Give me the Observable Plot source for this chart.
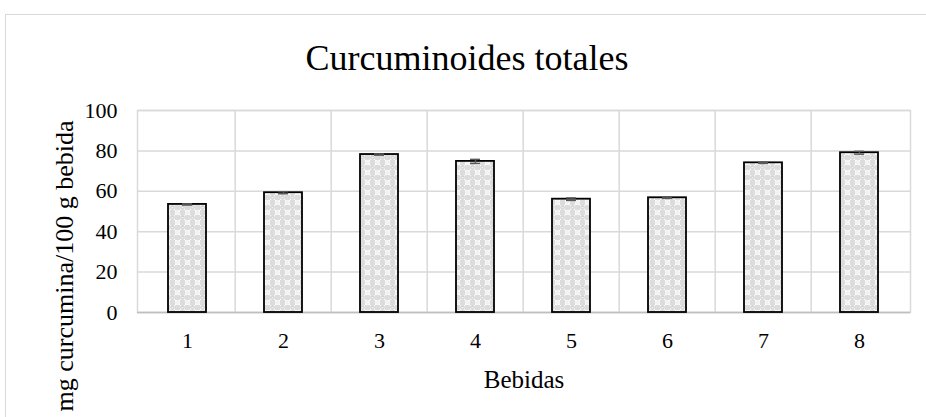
<!DOCTYPE html>
<html>
<head>
<meta charset="utf-8">
<script src="https://cdn.jsdelivr.net/npm/d3@7"></script>
<script src="https://cdn.jsdelivr.net/npm/@observablehq/plot@0.6"></script>
<style>
  html, body { margin: 0; padding: 0; background: #fff; overflow: hidden; }
  #wrap { position: relative; width: 926px; height: 417px; overflow: hidden; font-family: 'Liberation Serif', serif; }
  #frame { position: absolute; left: 5px; top: 14px; width: 1000px; height: 1000px; border: 1.5px solid #d9d9d9; pointer-events: none; z-index: 5; }
  #title { position: relative; height: 95px; }
  #title span { position: absolute; left: 467px; top: 40px; transform: translateX(-50%); white-space: nowrap;
    font-family: 'Liberation Serif', serif; font-size: 36px; line-height: 36px; color: #000; }
  #ylab { position: absolute; left: 65px; top: 266px; transform: translate(-50%, -50%) rotate(-90deg); white-space: nowrap;
    font-family: 'Liberation Serif', serif; font-size: 26px; line-height: 26px; color: #000; z-index: 4; }
</style>
</head>
<body>
<div id="wrap">
  <div id="frame"></div>
  <div id="title"><span id="titletext"></span></div>
  <div id="chart"></div>
  <div id="ylab"></div>
</div>
<script>
const titleText = "Curcuminoides totales";
const categories = ["1", "2", "3", "4", "5", "6", "7", "8"];
const values = [53.5, 59.3, 78.2, 74.8, 56.1, 56.8, 74.1, 79.1];
const errors = [0.3, 0.5, 0.3, 1.0, 0.6, 0.3, 0.3, 0.7];
const yTicks = [0, 20, 40, 60, 80, 100];
const yLabel = "mg curcumina/100 g bebida";
const xLabel = "Bebidas";

document.getElementById("titletext").textContent = titleText;
document.getElementById("ylab").textContent = yLabel;

const data = categories.map((c, i) => ({cat: c, value: values[i], err: errors[i]}));

const W = 926, H = 322, ML = 137, MR = 16, MT = 15, MB = 105;
const step = (W - ML - MR) / categories.length;
const gridColor = "#d9d9d9";

const plot = Plot.plot({
  width: W,
  height: H,
  marginLeft: ML,
  marginRight: MR,
  marginTop: MT,
  marginBottom: MB,
  style: {fontFamily: "'Liberation Serif', serif", color: "#000", background: "transparent"},
  x: {domain: categories, padding: 0.6, paddingOuter: 0.3, label: null},
  y: {domain: [0, 100], ticks: yTicks, label: null},
  marks: [
    Plot.gridY(yTicks, {stroke: gridColor, strokeOpacity: 1, strokeWidth: 1.5}),
    Plot.ruleX(categories.slice(1), {x: d => d, dx: -step / 2, y1: 0, y2: 100, stroke: gridColor, strokeWidth: 1.5}),
    Plot.frame({stroke: gridColor, strokeWidth: 1.5}),
    Plot.ruleY([0], {stroke: "#bfbfbf", strokeWidth: 1.5}),
    Plot.barY(data, {x: "cat", y: "value", fill: "url(#checker)", stroke: "#000", strokeWidth: 1.8}),
    Plot.ruleX(data, {x: "cat", y1: d => d.value - d.err, y2: d => d.value + d.err, stroke: "#595959", strokeWidth: 1.5}),
    Plot.tickY(data, {x: "cat", y: d => d.value - d.err, stroke: "#595959", strokeWidth: 1.5, insetLeft: 14, insetRight: 14}),
    Plot.tickY(data, {x: "cat", y: d => d.value + d.err, stroke: "#595959", strokeWidth: 1.5, insetLeft: 14, insetRight: 14}),
    Plot.axisY(yTicks, {tickSize: 0, tickPadding: 20, fontSize: 22, label: null}),
    Plot.axisX({tickSize: 0, tickPadding: 20, fontSize: 22, label: null}),
    Plot.text([xLabel], {text: d => d, frameAnchor: "bottom", dy: 67, fontSize: 25, lineAnchor: "middle"})
  ]
});

// pattern definition for bar fill
const svg = d3.select(plot);
const defs = svg.insert("defs", ":first-child");
const pat = defs.append("pattern")
  .attr("id", "checker").attr("patternUnits", "userSpaceOnUse")
  .attr("width", 10).attr("height", 10);
pat.append("rect").attr("width", 10).attr("height", 10).attr("fill", "#ffffff");
pat.append("rect").attr("x", 5).attr("y", 0).attr("width", 5).attr("height", 5).attr("fill", "#dcdcdc");
pat.append("rect").attr("x", 0).attr("y", 5).attr("width", 5).attr("height", 5).attr("fill", "#dcdcdc");
pat.append("circle").attr("cx", 2.5).attr("cy", 2.5).attr("r", 2.4).attr("fill", "#d4d4d4");
pat.append("circle").attr("cx", 7.5).attr("cy", 7.5).attr("r", 2.4).attr("fill", "#f2f2f2");
pat.append("ellipse").attr("cx", 2.5).attr("cy", 2.7).attr("rx", 1.2).attr("ry", 0.6).attr("fill", "#f4f4f4");

document.getElementById("chart").appendChild(plot);
</script>
</body>
</html>
